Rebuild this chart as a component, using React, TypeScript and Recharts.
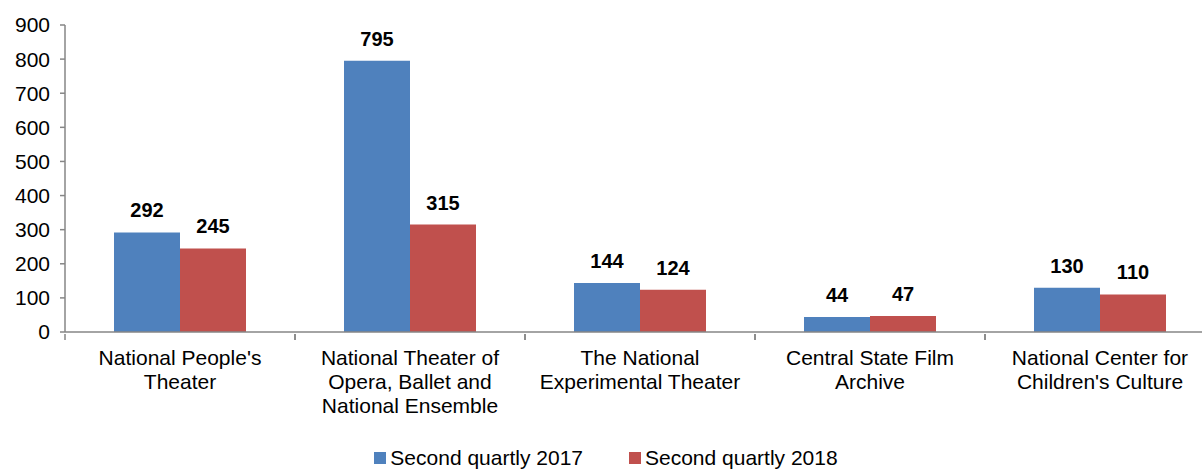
import { BarChart, Bar, XAxis, YAxis, LabelList } from "recharts";

const categories = [
  "National People's Theater",
  "National Theater of Opera, Ballet and National Ensemble",
  "The National Experimental Theater",
  "Central State Film Archive",
  "National Center for Children's Culture",
];
const tickLines = [
  ["National People's", "Theater"],
  ["National Theater of", "Opera, Ballet and", "National Ensemble"],
  ["The National", "Experimental Theater"],
  ["Central State Film", "Archive"],
  ["National Center for", "Children's Culture"],
];
const q2017 = [292, 795, 144, 44, 130];
const q2018 = [245, 315, 124, 47, 110];
const yTicks = [0, 100, 200, 300, 400, 500, 600, 700, 800, 900];
const seriesNames = ["Second quartly 2017", "Second quartly 2018"];

const BLUE = "#4F81BD";
const RED = "#C0504D";
const AXIS = "#868686";
const FONT = "'Liberation Sans', Arial, sans-serif";

const data = categories.map((name, i) => ({
  name,
  a: q2017[i],
  b: q2018[i],
}));

const CHART_W = 1230;
const Y_AXIS_W = 65;
const MARGIN_R = 15;
const BAND = (CHART_W - Y_AXIS_W - MARGIN_R) / categories.length;

function CategoryTick(props: any) {
  const { x, y, index } = props;
  const lines = tickLines[index] || [];
  return (
    <g>
      <line x1={x - BAND / 2} x2={x - BAND / 2} y1={y} y2={y + 6} stroke={AXIS} strokeWidth={1.5} />
      <line x1={x + BAND / 2} x2={x + BAND / 2} y1={y} y2={y + 6} stroke={AXIS} strokeWidth={1.5} />
      {lines.map((l, k) => (
        <text
          key={k}
          x={x}
          y={y + 31 + k * 24}
          textAnchor="middle"
          fontSize={21}
          fontFamily={FONT}
          fill="#000"
        >
          {l}
        </text>
      ))}
    </g>
  );
}

function LegendBox() {
  const colors = [BLUE, RED];
  return (
    <div
      style={{
        position: "absolute",
        top: 446,
        left: 0,
        width: 1212,
        display: "flex",
        justifyContent: "center",
        fontFamily: FONT,
        fontSize: 21,
        color: "#000",
      }}
    >
      {seriesNames.map((n, i) => (
        <div key={n} style={{ display: "flex", alignItems: "center", marginRight: i === 0 ? 46 : 0 }}>
          <span style={{ width: 12, height: 12, background: colors[i], display: "inline-block", marginRight: 4 }} />
          <span>{n}</span>
        </div>
      ))}
    </div>
  );
}

export default function App() {
  return (
    <div style={{ position: "absolute", top: 0, left: 0, width: 1202, height: 469, overflow: "hidden", background: "#fff" }}>
      <BarChart
        width={CHART_W}
        height={469}
        data={data}
        margin={{ top: 25, right: MARGIN_R, left: 0, bottom: 0 }}
        barGap={0}
        barSize={66}
      >
        <XAxis
          dataKey="name"
          height={137}
          interval={0}
          tickSize={0}
          tickLine={false}
          stroke={AXIS}
          strokeWidth={1.5}
          tick={<CategoryTick />}
        />
        <YAxis
          width={Y_AXIS_W}
          domain={[0, 900]}
          ticks={yTicks}
          interval={0}
          tickSize={5}
          tickMargin={10}
          stroke={AXIS}
          strokeWidth={1.5}
          tick={{ fill: "#000", fontSize: 21, fontFamily: FONT }}
        />
        <Bar dataKey="a" name={seriesNames[0]} fill={BLUE} isAnimationActive={false}>
          <LabelList dataKey="a" position="top" offset={15} fill="#000" fontSize={20} fontWeight="bold" fontFamily={FONT} />
        </Bar>
        <Bar dataKey="b" name={seriesNames[1]} fill={RED} isAnimationActive={false}>
          <LabelList dataKey="b" position="top" offset={15} fill="#000" fontSize={20} fontWeight="bold" fontFamily={FONT} />
        </Bar>
      </BarChart>
      <LegendBox />
    </div>
  );
}
